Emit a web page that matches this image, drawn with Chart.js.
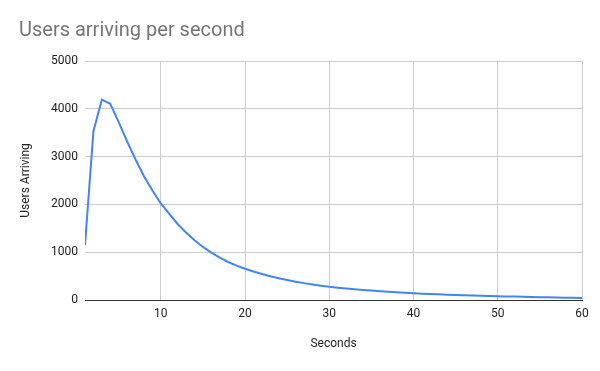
<!DOCTYPE html>
<html>
<head>
<meta charset="utf-8">
<script src="https://cdn.jsdelivr.net/npm/chart.js@4/dist/chart.umd.min.js"></script>
<style>
  html, body { margin: 0; padding: 0; background: #fff; }
  #wrap { width: 600px; height: 371px; }
</style>
</head>
<body>
<div id="wrap"><canvas id="lineChart" width="600" height="371"></canvas></div>
<script>
// seconds after start
var seconds = [1, 2, 3, 4, 5, 6, 7, 8, 9, 10,
    11, 12, 13, 14, 15, 16, 17, 18, 19, 20,
    21, 22, 23, 24, 25, 26, 27, 28, 29, 30,
    31, 32, 33, 34, 35, 36, 37, 38, 39, 40,
    41, 42, 43, 44, 45, 46, 47, 48, 49, 50,
    51, 52, 53, 54, 55, 56, 57, 58, 59, 60];

// users arriving
var usersArriving = [1150, 3530, 4190, 4105, 3720, 3320, 2940, 2590, 2290, 2020,
    1800, 1590, 1410, 1250, 1110, 990, 885, 795, 720, 655,
    597, 545, 498, 456, 418, 384, 353, 325, 299, 275,
    257, 240, 225, 210, 197, 184, 172, 161, 150, 140,
    132, 125, 118, 112, 106, 100, 95, 90, 85, 80,
    75, 71, 66, 62, 58, 55, 51, 48, 45, 42];

var xTicks = [10, 20, 30, 40, 50, 60];
var yTicks = [0, 1000, 2000, 3000, 4000, 5000];

var font = "Roboto, Arial, sans-serif";

var points = [];
for (var i = 0; i < seconds.length; i++) {
    points.push({ x: seconds[i], y: usersArriving[i] });
}

function plainLabel(value) {
    return String(value);
}

var ctx = document.getElementById('lineChart');
var mainChart = new Chart(ctx, {
    type: 'line',
    data: {
        datasets: [
            {
                label: "Users Arriving",
                data: points,
                borderColor: "#4285f4",
                backgroundColor: "#4285f4",
                borderWidth: 2,
                pointRadius: 0,
                tension: 0,
                fill: false
            }
        ]
    },
    options: {
        responsive: false,
        animation: false,
        layout: { padding: { left: 19, right: 18, top: 0, bottom: 0 } },
        plugins: {
            legend: { display: false },
            tooltip: { enabled: false },
            title: {
                display: true,
                text: "Users arriving per second",
                align: 'start',
                color: "#757575",
                font: { family: font, size: 20, weight: 'normal' },
                padding: { top: 19, bottom: 18 }
            }
        },
        scales: {
            x: {
                type: 'linear',
                min: 1,
                max: 60,
                afterBuildTicks: function (scale) {
                    scale.ticks = xTicks.map(function (v) { return { value: v }; });
                },
                afterFit: function (scale) { scale.height = 71; },
                grid: { color: "#cccccc", drawTicks: false },
                border: { display: true, color: "#333333", width: 1 },
                ticks: {
                    color: "#222222",
                    padding: 7,
                    maxRotation: 0,
                    callback: plainLabel,
                    font: { family: font, size: 12 }
                },
                title: {
                    display: true,
                    text: "Seconds",
                    color: "#222222",
                    font: { family: font, size: 12 },
                    padding: { top: 0, bottom: 20 }
                }
            },
            y: {
                min: 0,
                max: 5000,
                afterBuildTicks: function (scale) {
                    scale.ticks = yTicks.map(function (v) { return { value: v }; });
                },
                afterFit: function (scale) { scale.width = 66; },
                grid: { color: "#cccccc", drawTicks: false },
                border: { display: false },
                ticks: {
                    color: "#222222",
                    padding: 7,
                    callback: plainLabel,
                    font: { family: font, size: 12 }
                },
                title: {
                    display: true,
                    text: "Users Arriving",
                    color: "#222222",
                    font: { family: font, size: 12 },
                    padding: { top: 0, bottom: 0 }
                }
            }
        }
    }
});
</script>
</body>
</html>
